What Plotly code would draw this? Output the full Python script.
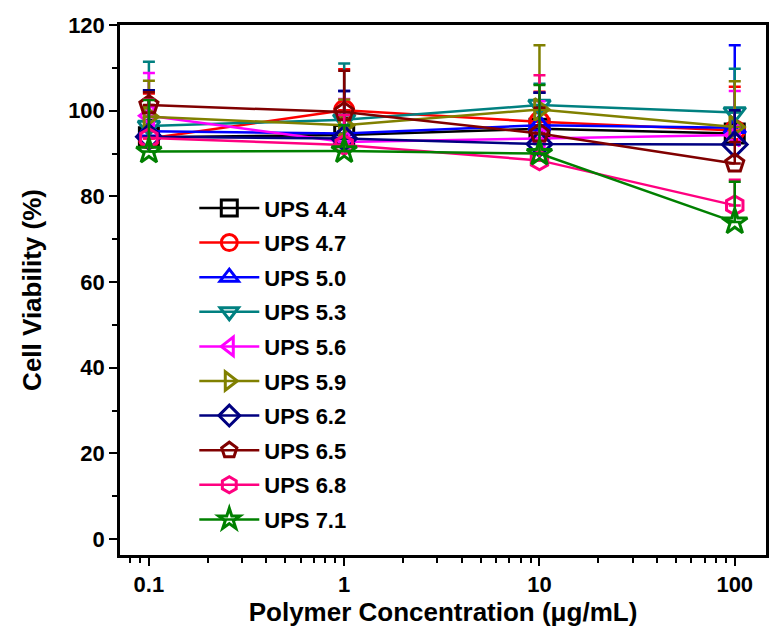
import plotly.graph_objects as go

concentrations = [0.1, 1, 10, 100]
series_names = ["UPS 4.4", "UPS 4.7", "UPS 5.0", "UPS 5.3", "UPS 5.6",
                "UPS 5.9", "UPS 6.2", "UPS 6.5", "UPS 6.8", "UPS 7.1"]
viability = [
    [93.8, 94.3, 95.8, 94.7],   # 4.4
    [93.5, 100.1, 97.4, 95.4],  # 4.7
    [95.2, 94.7, 96.6, 96.0],   # 5.0
    [96.4, 97.9, 101.3, 99.6],  # 5.3
    [98.8, 92.7, 93.5, 94.3],   # 5.6
    [98.6, 96.6, 100.3, 96.2],  # 5.9
    [93.9, 93.5, 92.2, 92.1],   # 6.2
    [101.3, 99.7, 94.7, 87.7],  # 6.5
    [93.6, 92.0, 88.4, 77.9],   # 6.8
    [90.5, 90.6, 90.0, 74.0],   # 7.1
]
errors = [
    [4.0, 4.0, 5.0, 5.0],
    [10.5, 9.6, 7.0, 10.2],
    [9.6, 9.9, 7.6, 19.3],
    [15.0, 13.1, 5.0, 10.2],
    [10.0, 10.0, 8.7, 10.3],
    [8.4, 6.0, 15.0, 10.7],
    [10.9, 11.1, 12.0, 8.0],
    [3.0, 9.6, 6.0, 5.0],
    [9.0, 7.0, 19.9, 6.0],
    [12.0, 6.0, 16.0, 9.4],
]
colors = ["#000000", "#FF0000", "#0000FF", "#008080", "#FF00FF",
          "#808000", "#000080", "#800000", "#FF0080", "#008000"]
symbols = ["square-open", "circle-open", "triangle-up-open", "triangle-down-open",
           "triangle-left-open", "triangle-right-open", "diamond-open",
           "pentagon-open", "hexagon-open", "star-open"]

FONT = "Arial, Liberation Sans, sans-serif"

fig = go.Figure()
for name, vals, errs, col, sym in zip(series_names, viability, errors, colors, symbols):
    fig.add_trace(go.Scatter(
        x=concentrations, y=vals, name=name, mode="lines+markers",
        line=dict(color=col, width=2.5),
        marker=dict(symbol=sym, size=19, color=col, line=dict(color=col, width=3)),
        error_y=dict(type="data", array=errs, symmetric=False,
                     arrayminus=[0] * len(errs), color=col, thickness=2.5, width=6),
        legendgroup=name,
    ))

fig.update_layout(
    width=771, height=640,
    margin=dict(l=120, r=2, t=25, b=85),
    paper_bgcolor="white", plot_bgcolor="white",
    font=dict(family=FONT, size=20, color="black"),
    showlegend=True,
    legend=dict(x=0.115, y=0.694, xanchor="left", yanchor="top",
                bgcolor="rgba(0,0,0,0)", font=dict(family=FONT, size=22, color="black", weight="bold"),
                tracegroupgap=3, itemwidth=60),
    xaxis=dict(type="log", range=[-1.148, 2.16],
               tickvals=[0.1, 1, 10, 100], ticktext=["0.1", "1", "10", "100"],
               ticks="outside", ticklen=8, tickwidth=2, tickcolor="black",
               minor=dict(ticks="outside", ticklen=5, tickwidth=2, tickcolor="black",
                          tickvals=[0.08, 0.09] + [k * 10 ** p for p in (-1, 0, 1) for k in range(2, 10)]),
               showline=True, linewidth=2.5, linecolor="black", mirror=True,
               showgrid=False, zeroline=False,
               tickfont=dict(family=FONT, size=22, color="black", weight="bold"),
               title=dict(text="Polymer Concentration (μg/mL)", standoff=4,
                          font=dict(family=FONT, size=26, color="black", weight="bold"))),
    yaxis=dict(range=[-3.7, 120], tickvals=[0, 20, 40, 60, 80, 100, 120],
               ticks="outside", ticklen=8, tickwidth=2, tickcolor="black",
               minor=dict(ticks="outside", ticklen=5, tickwidth=2, tickcolor="black",
                          tickvals=[10, 30, 50, 70, 90, 110]),
               showline=True, linewidth=2.5, linecolor="black", mirror=True,
               showgrid=False, zeroline=False,
               tickfont=dict(family=FONT, size=22, color="black", weight="bold"),
               title=dict(text="Cell Viability (%)", standoff=20,
                          font=dict(family=FONT, size=26, color="black", weight="bold"))),
)

fig.write_html("out.html")
